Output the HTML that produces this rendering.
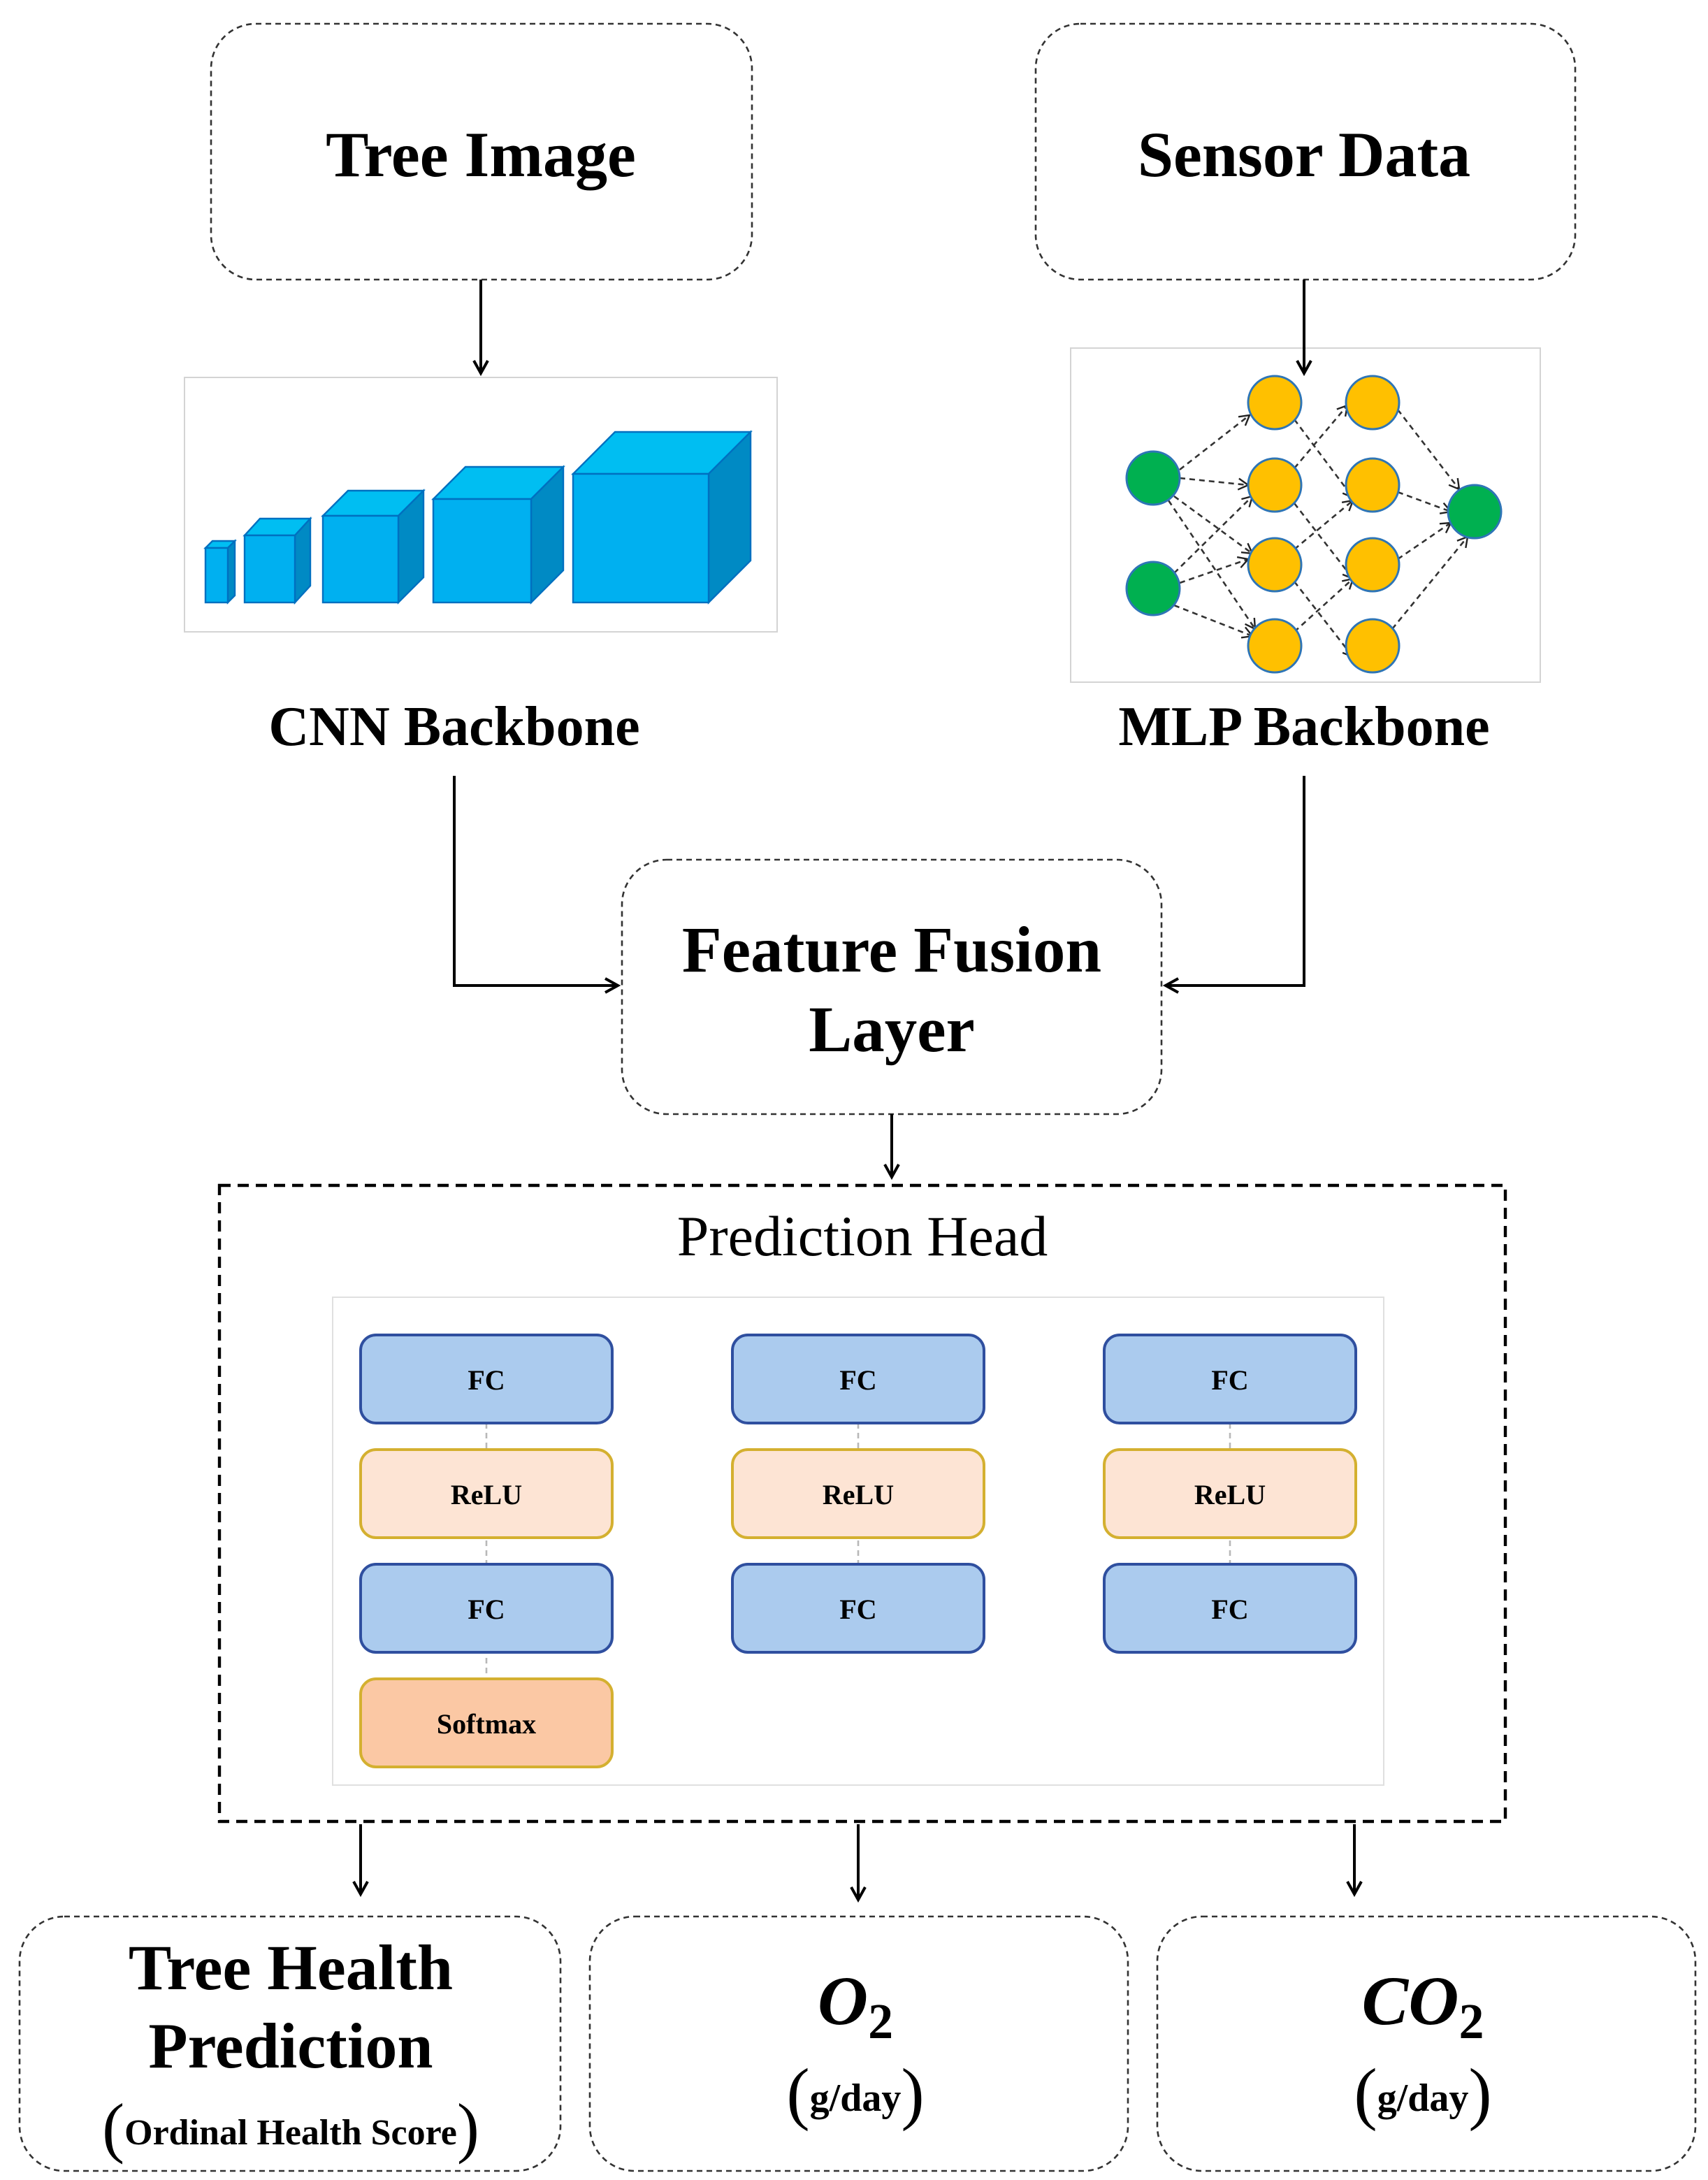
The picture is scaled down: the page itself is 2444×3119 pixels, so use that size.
<!DOCTYPE html>
<html><head><meta charset="utf-8"><style>
html,body{margin:0;padding:0;background:#fff;}
svg{display:block;}
text{font-family:"Liberation Serif",serif;}
</style></head><body>
<svg width="2444" height="3119" viewBox="0 0 1222 1559.5" xmlns="http://www.w3.org/2000/svg">
<defs>
<marker id="ah" markerWidth="12" markerHeight="12" refX="10" refY="6" orient="auto" markerUnits="userSpaceOnUse">
<path d="M1,1 L10,6 L1,11" fill="none" stroke="#000" stroke-width="2"/>
</marker>
<marker id="as" markerWidth="10" markerHeight="10" refX="8" refY="5" orient="auto" markerUnits="userSpaceOnUse">
<path d="M1,1 L8,5 L1,9" fill="none" stroke="#222" stroke-width="1.2"/>
</marker>
</defs>

<!-- top boxes -->
<rect x="151" y="17" width="387" height="183" rx="32" fill="none" stroke="#333" stroke-width="1.3" stroke-dasharray="4,3"/>
<text x="344" y="126" font-size="46" font-weight="bold" text-anchor="middle">Tree Image</text>
<rect x="741" y="17" width="386" height="183" rx="32" fill="none" stroke="#333" stroke-width="1.3" stroke-dasharray="4,3"/>
<text x="933" y="126" font-size="46" font-weight="bold" text-anchor="middle">Sensor Data</text>

<!-- CNN frame -->
<rect x="132" y="270" width="424" height="182" fill="#fff" stroke="#d4d4d4" stroke-width="1"/>
<g stroke="#0070c0" stroke-width="1.2">
<polygon points="147,392 163,392 168,387 152,387" fill="#00bef2"/>
<polygon points="163,392 168,387 168,426 163,431" fill="#008ac4"/>
<rect x="147" y="392" width="16" height="39" fill="#00b0f0"/>
<polygon points="175,383 211,383 222,371 186,371" fill="#00bef2"/>
<polygon points="211,383 222,371 222,419 211,431" fill="#008ac4"/>
<rect x="175" y="383" width="36" height="48" fill="#00b0f0"/>
<polygon points="231,369 285,369 303,351 249,351" fill="#00bef2"/>
<polygon points="285,369 303,351 303,413 285,431" fill="#008ac4"/>
<rect x="231" y="369" width="54" height="62" fill="#00b0f0"/>
<polygon points="310,357 380,357 403,334 333,334" fill="#00bef2"/>
<polygon points="380,357 403,334 403,408 380,431" fill="#008ac4"/>
<rect x="310" y="357" width="70" height="74" fill="#00b0f0"/>
<polygon points="410,339 507,339 537,309 440,309" fill="#00bef2"/>
<polygon points="507,339 537,309 537,401 507,431" fill="#008ac4"/>
<rect x="410" y="339" width="97" height="92" fill="#00b0f0"/>
</g>

<!-- MLP frame -->
<rect x="766" y="249" width="336" height="239" fill="#fff" stroke="#d4d4d4" stroke-width="1"/>
<g stroke="#333" stroke-width="1.3" stroke-dasharray="4,3" fill="none" marker-end="url(#as)">
<line x1="844" y1="336" x2="894" y2="297"/>
<line x1="844" y1="342" x2="893" y2="347"/>
<line x1="840" y1="355" x2="896" y2="396"/>
<line x1="836" y1="358" x2="898" y2="450"/>
<line x1="840" y1="410" x2="896" y2="355"/>
<line x1="844" y1="417" x2="893" y2="400"/>
<line x1="840" y1="433" x2="896" y2="455"/>
<line x1="926" y1="300" x2="968" y2="356"/>
<line x1="926" y1="335" x2="964" y2="290"/>
<line x1="926" y1="360" x2="968" y2="414"/>
<line x1="926" y1="393" x2="968" y2="358"/>
<line x1="926" y1="416" x2="968" y2="470"/>
<line x1="926" y1="452" x2="968" y2="414"/>
<line x1="1000" y1="293" x2="1044" y2="350"/>
<line x1="1000" y1="352" x2="1038" y2="366"/>
<line x1="1000" y1="400" x2="1038" y2="374"/>
<line x1="996" y1="450" x2="1050" y2="384"/>
</g>
<g stroke="#2e75b6" stroke-width="1.5">
<circle cx="825" cy="342" r="19" fill="#00b050"/>
<circle cx="825" cy="421" r="19" fill="#00b050"/>
<circle cx="1055" cy="366" r="19" fill="#00b050"/>
<circle cx="912" cy="288" r="19" fill="#ffc000"/>
<circle cx="912" cy="347" r="19" fill="#ffc000"/>
<circle cx="912" cy="404" r="19" fill="#ffc000"/>
<circle cx="912" cy="462" r="19" fill="#ffc000"/>
<circle cx="982" cy="288" r="19" fill="#ffc000"/>
<circle cx="982" cy="347" r="19" fill="#ffc000"/>
<circle cx="982" cy="404" r="19" fill="#ffc000"/>
<circle cx="982" cy="462" r="19" fill="#ffc000"/>
</g>

<line x1="344" y1="200" x2="344" y2="267" stroke="#000" stroke-width="2" marker-end="url(#ah)"/>
<line x1="933" y1="200" x2="933" y2="267" stroke="#000" stroke-width="2" marker-end="url(#ah)"/>

<text x="325" y="533" font-size="40" font-weight="bold" text-anchor="middle">CNN Backbone</text>
<text x="933" y="533" font-size="40" font-weight="bold" text-anchor="middle">MLP Backbone</text>

<polyline points="325,555 325,705 442,705" fill="none" stroke="#000" stroke-width="2" marker-end="url(#ah)"/>
<polyline points="933,555 933,705 834,705" fill="none" stroke="#000" stroke-width="2" marker-end="url(#ah)"/>

<rect x="445" y="615" width="386" height="182" rx="32" fill="none" stroke="#333" stroke-width="1.3" stroke-dasharray="4,3"/>
<text x="638" y="695" font-size="46.5" font-weight="bold" text-anchor="middle">Feature Fusion</text>
<text x="638" y="752" font-size="46.5" font-weight="bold" text-anchor="middle">Layer</text>

<line x1="638" y1="797" x2="638" y2="842" stroke="#000" stroke-width="2" marker-end="url(#ah)"/>

<!-- Prediction head -->
<rect x="157" y="848" width="920" height="455" fill="none" stroke="#000" stroke-width="2.2" stroke-dasharray="8,5"/>
<text x="617" y="898" font-size="41" text-anchor="middle">Prediction Head</text>
<rect x="238" y="928" width="752" height="349" fill="#fff" stroke="#e0e0e0" stroke-width="1"/>

<g stroke="#b8b8b8" stroke-width="1.3" stroke-dasharray="4,3">
<line x1="348" y1="1018" x2="348" y2="1201"/>
<line x1="614" y1="1018" x2="614" y2="1119"/>
<line x1="880" y1="1018" x2="880" y2="1119"/>
</g>
<g font-size="20" font-weight="bold" text-anchor="middle">
<rect x="258" y="955" width="180" height="63" rx="11" fill="#abcbee" stroke="#2f4f9f" stroke-width="2"/>
<text x="348" y="994">FC</text>
<rect x="258" y="1037" width="180" height="63" rx="11" fill="#fde4d4" stroke="#d4b030" stroke-width="2"/>
<text x="348" y="1076">ReLU</text>
<rect x="258" y="1119" width="180" height="63" rx="11" fill="#abcbee" stroke="#2f4f9f" stroke-width="2"/>
<text x="348" y="1158">FC</text>
<rect x="258" y="1201" width="180" height="63" rx="11" fill="#fbc8a4" stroke="#d4b030" stroke-width="2"/>
<text x="348" y="1240">Softmax</text>

<rect x="524" y="955" width="180" height="63" rx="11" fill="#abcbee" stroke="#2f4f9f" stroke-width="2"/>
<text x="614" y="994">FC</text>
<rect x="524" y="1037" width="180" height="63" rx="11" fill="#fde4d4" stroke="#d4b030" stroke-width="2"/>
<text x="614" y="1076">ReLU</text>
<rect x="524" y="1119" width="180" height="63" rx="11" fill="#abcbee" stroke="#2f4f9f" stroke-width="2"/>
<text x="614" y="1158">FC</text>

<rect x="790" y="955" width="180" height="63" rx="11" fill="#abcbee" stroke="#2f4f9f" stroke-width="2"/>
<text x="880" y="994">FC</text>
<rect x="790" y="1037" width="180" height="63" rx="11" fill="#fde4d4" stroke="#d4b030" stroke-width="2"/>
<text x="880" y="1076">ReLU</text>
<rect x="790" y="1119" width="180" height="63" rx="11" fill="#abcbee" stroke="#2f4f9f" stroke-width="2"/>
<text x="880" y="1158">FC</text>
</g>

<line x1="258" y1="1305" x2="258" y2="1355" stroke="#000" stroke-width="2" marker-end="url(#ah)"/>
<line x1="614" y1="1305" x2="614" y2="1359" stroke="#000" stroke-width="2" marker-end="url(#ah)"/>
<line x1="969" y1="1305" x2="969" y2="1355" stroke="#000" stroke-width="2" marker-end="url(#ah)"/>

<!-- bottom boxes -->
<rect x="14" y="1371" width="387" height="182" rx="32" fill="none" stroke="#333" stroke-width="1.3" stroke-dasharray="4,3"/>
<rect x="422" y="1371" width="385" height="182" rx="32" fill="none" stroke="#333" stroke-width="1.3" stroke-dasharray="4,3"/>
<rect x="828" y="1371" width="385" height="182" rx="32" fill="none" stroke="#333" stroke-width="1.3" stroke-dasharray="4,3"/>

<text x="208" y="1423" font-size="46" font-weight="bold" text-anchor="middle">Tree Health</text>
<text x="208" y="1479" font-size="46" font-weight="bold" text-anchor="middle">Prediction</text>
<text x="208" y="1534" font-size="26" font-weight="bold" text-anchor="middle"><tspan font-size="48" font-weight="normal" dy="4">(</tspan><tspan dy="-4">Ordinal Health Score</tspan><tspan font-size="48" font-weight="normal" dy="4">)</tspan></text>

<text x="612" y="1448" font-size="50" font-weight="bold" font-style="italic" text-anchor="middle">O<tspan font-size="36" font-style="normal" dy="10">2</tspan></text>
<text x="612" y="1510" font-size="28" font-weight="bold" text-anchor="middle"><tspan font-size="50" font-weight="normal" dy="4">(</tspan><tspan dy="-4">g/day</tspan><tspan font-size="50" font-weight="normal" dy="4">)</tspan></text>

<text x="1018" y="1448" font-size="50" font-weight="bold" font-style="italic" text-anchor="middle">CO<tspan font-size="36" font-style="normal" dy="10">2</tspan></text>
<text x="1018" y="1510" font-size="28" font-weight="bold" text-anchor="middle"><tspan font-size="50" font-weight="normal" dy="4">(</tspan><tspan dy="-4">g/day</tspan><tspan font-size="50" font-weight="normal" dy="4">)</tspan></text>
</svg>
</body></html>
